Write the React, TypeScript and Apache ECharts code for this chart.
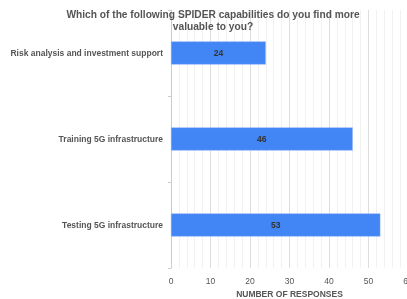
import React, { useEffect, useRef } from "react";
import * as echarts from "echarts";

const categories = [
  "Risk analysis and investment support",
  "Training 5G infrastructure",
  "Testing 5G infrastructure",
];
const responses = [24, 46, 53];
const xTicks = [0, 10, 20, 30, 40, 50, 60];

export default function App() {
  const ref = useRef<HTMLDivElement>(null);
  useEffect(() => {
    if (!ref.current) return;
    const chart = echarts.init(ref.current, undefined, { renderer: "svg" });
    chart.setOption({
      animation: false,
      title: {
        text: "Which of the following SPIDER capabilities do you find more\nvaluable to you?",
        left: 208,
        top: 3,
        textAlign: "center",
        textStyle: {
          fontFamily: "Liberation Sans, Arial",
          fontSize: 10.2,
          fontWeight: "bold",
          color: "#555555",
          lineHeight: 12,
        },
      },
      grid: { left: 171, width: 237, top: 10, bottom: 31, outerBoundsMode: "none", containLabel: false },
      xAxis: {
        type: "value",
        min: xTicks[0],
        max: xTicks[xTicks.length - 1],
        interval: 10,
        name: "NUMBER OF RESPONSES",
        nameLocation: "middle",
        nameGap: 20,
        nameTextStyle: {
          fontFamily: "Liberation Sans, Arial",
          fontSize: 8.5,
          fontWeight: "bold",
          color: "#555555",
        },
        axisLine: { show: false },
        axisTick: { show: false },
        axisLabel: {
          fontFamily: "Liberation Sans, Arial",
          fontSize: 8.5,
          color: "#555555",
          margin: 8,
        },
        splitLine: { show: true, lineStyle: { color: "#dddddd", width: 1 } },
        minorTick: { show: false, splitNumber: 5 },
        minorSplitLine: { show: true, lineStyle: { color: "#f1f1f1", width: 1 } },
      },
      yAxis: {
        type: "category",
        data: categories,
        inverse: true,
        axisLine: { show: true, lineStyle: { color: "#cccccc" } },
        axisTick: { show: true, length: 3, lineStyle: { color: "#cccccc" } },
        axisLabel: {
          fontFamily: "Liberation Sans, Arial",
          fontSize: 8.5,
          fontWeight: "bold",
          color: "#555555",
          margin: 8,
        },
      },
      series: [
        {
          type: "bar",
          data: responses,
          barWidth: "27%",
          itemStyle: { color: "#4285F4", borderColor: "#8fb4f8", borderWidth: 0.5 },
          label: {
            show: true,
            position: "inside",
            fontFamily: "Liberation Sans, Arial",
            fontSize: 8.5,
            fontWeight: "bold",
            color: "#333333",
          },
        },
      ],
    });
    return () => chart.dispose();
  }, []);
  return <div ref={ref} style={{ width: 407, height: 299, position: "fixed", left: 0, top: 0 }} />;
}
